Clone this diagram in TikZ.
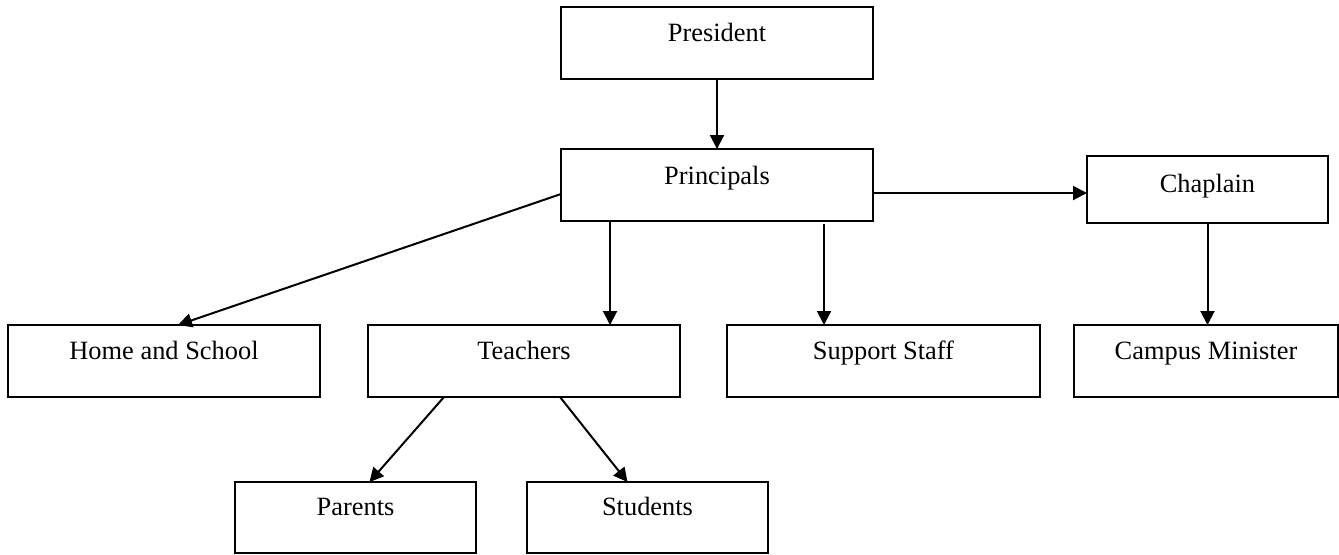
\documentclass[tikz,border=0pt]{standalone}
\usepackage{fontspec}
\setmainfont{Liberation Serif}
\usetikzlibrary{positioning, arrows.meta}
\tikzset{
    >={Triangle[length=7pt, width=7pt]}, % filled heads as in the chart
    link/.style={->, line width=1pt}, % the lines between the posts
    post/.style={draw, rectangle, line width=1pt, inner sep=0pt, outer sep=0pt,
        minimum width=156pt, text height=17pt, text depth=19pt,
        font=\fontsize{13.2}{16}\selectfont}, % every post of the chart
    node distance=24pt, % change if necessary
}

\begin{document}
\begin{tikzpicture}[
                        smallPost/.style={minimum width=120.5pt},
                    ]
    \useasboundingbox (0pt,0pt) rectangle (669.5pt,-277pt);
    \node[post, anchor=north west] (president) at (280.5pt,-3.5pt) {President};
    \node[post, below=35pt of president, text height=17.5pt, text depth=18.5pt] (principals) {Principals};
    \node[post, smallPost, right=107pt of principals, yshift=-2.25pt, text height=18pt, text depth=15.5pt] (chaplain) {Chaplain};
    \node[post, anchor=north west] (home) at (4pt,-162.5pt) {Home and School};
    \node[post, right=24pt of home] (teachers) {Teachers};
    \node[post, right=23.5pt of teachers, minimum width=156.5pt] (support) {Support Staff};
    \node[post, right=17pt of support, minimum width=132pt] (campus) {Campus Minister};
    \node[post, smallPost, anchor=north west, text height=16.5pt] (parents) at (117.5pt,-241pt) {Parents};
    \node[post, smallPost, right=25.5pt of parents, text height=16.5pt] (students) {Students};
    \draw[link] (president) -- (principals);
    \draw[link] ([yshift=-4pt]principals.east) -- ([yshift=-1.75pt]chaplain.west);
    \draw[link] ([yshift=-4.5pt]principals.west) -- ([xshift=7pt]home.north);
    \draw[link] ([xshift=24.5pt]principals.south west) -- ([xshift=43pt]teachers.north);
    \draw[link] ([xshift=-24.5pt, yshift=-1.5pt]principals.south east) -- ([xshift=-29.75pt]support.north);
    \draw[link] (chaplain.south) -- ([xshift=0.75pt]campus.north);
    \draw[link] ([xshift=-40pt]teachers.south) -- ([xshift=7pt]parents.north);
    \draw[link] ([xshift=18pt]teachers.south) -- ([xshift=-10pt]students.north);
\end{tikzpicture}
\end{document}
